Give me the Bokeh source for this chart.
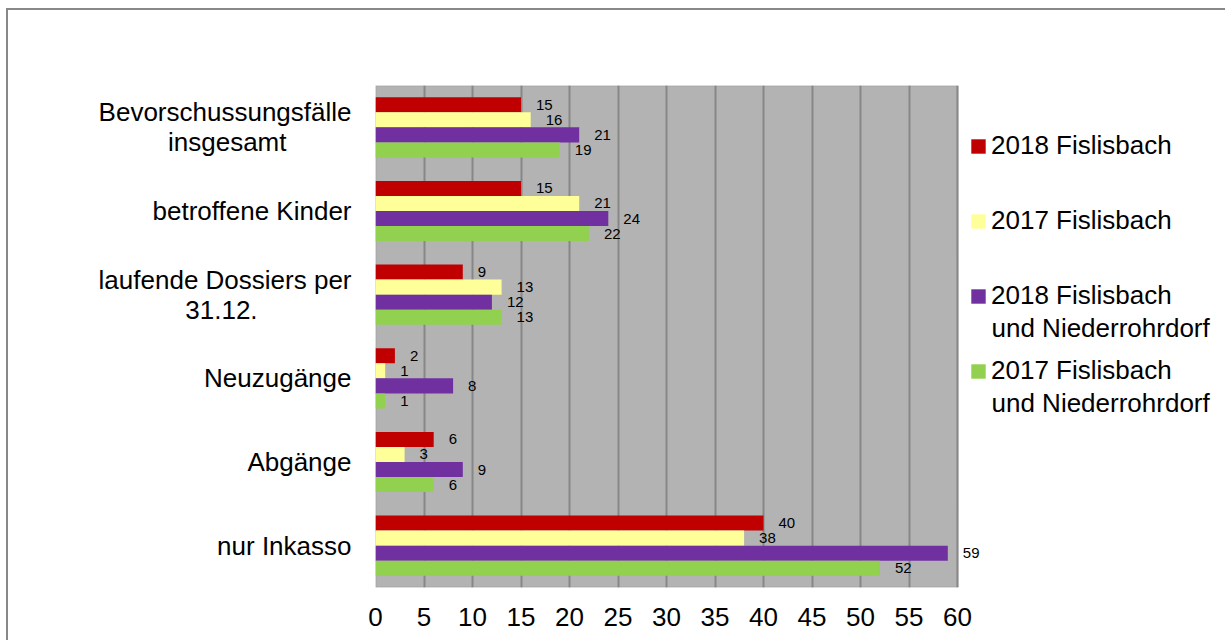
from bokeh.plotting import figure
from bokeh.models import (ColumnDataSource, FactorRange, Range1d, FixedTicker,
                          LabelSet, Label, Legend, LegendItem, BoxAnnotation)
from bokeh.core.properties import value
from bokeh.transform import dodge
from bokeh.embed import file_html
from bokeh.resources import INLINE

NBSP = "\u00a0"

# Categories, top to bottom as they appear on the chart
# (second lines are padded so that they sit centred under the first line)
categories = [
    "Bevorschussungsfälle\ninsgesamt" + NBSP * 9,
    "betroffene Kinder",
    "laufende Dossiers per\n31.12." + NBSP * 13,
    "Neuzugänge",
    "Abgänge",
    "nur Inkasso",
]

# Series values (same order as categories)
fislisbach_2018 = [15, 15, 9, 2, 6, 40]
fislisbach_2017 = [16, 21, 13, 1, 3, 38]
fislisbach_nrd_2018 = [21, 24, 12, 8, 9, 59]
fislisbach_nrd_2017 = [19, 22, 13, 1, 6, 52]

# Legend texts: first line next to the colour key, optional second line below
series_names = ["2018 Fislisbach", "2017 Fislisbach", "2018 Fislisbach", "2017 Fislisbach"]
series_second_lines = [None, None, "und Niederrohrdorf", "und Niederrohrdorf"]
series_colors = ["#C00000", "#FFFF99", "#7030A0", "#92D050"]

x_ticks = [0, 5, 10, 15, 20, 25, 30, 35, 40, 45, 50, 55, 60]
x_max = 60

FONT = "Liberation Sans"

series = [fislisbach_2018, fislisbach_2017, fislisbach_nrd_2018, fislisbach_nrd_2017]
data = {"cat": categories}
for i, vals in enumerate(series):
    data[f"v{i}"] = vals
    data[f"t{i}"] = [str(v) for v in vals]
source = ColumnDataSource(data)

# The frame reaches to the right edge so that the value labels and the
# legend beside the grey plot area are not clipped; the grey area itself
# covers 0..60 only.
FRAME_LEFT, PLOT_RIGHT, FRAME_RIGHT = 375, 957, 1215
FRAME_TOP, FRAME_BOTTOM = 85, 587
x_end = x_max * (FRAME_RIGHT - FRAME_LEFT) / (PLOT_RIGHT - FRAME_LEFT)

p = figure(
    width=1225, height=640,
    y_range=FactorRange(factors=list(reversed(categories))),
    x_range=Range1d(0, x_end),
    output_backend="svg", toolbar_location=None,
    min_border_left=FRAME_LEFT, min_border_right=1225 - FRAME_RIGHT,
    min_border_top=FRAME_TOP, min_border_bottom=640 - FRAME_BOTTOM,
)
p.background_fill_color = None
p.border_fill_color = None
p.outline_line_color = None
p.styles = {
    "background": "linear-gradient(#888888,#888888) 6px 8px / 1219px 2px no-repeat, "
                  "linear-gradient(#888888,#888888) 6px 8px / 2px 632px no-repeat, #ffffff"
}

plot_area = BoxAnnotation(left=0, right=x_max, fill_color="#B3B3B3", fill_alpha=1,
                          line_color="#888888", line_width=2, level="image")
p.add_layout(plot_area)

bar_height = 0.18
offsets = [0.27, 0.09, -0.09, -0.27]

renderers = []
for i, (color, off) in enumerate(zip(series_colors, offsets)):
    r = p.hbar(y=dodge("cat", off, range=p.y_range), left=0, right=f"v{i}",
               height=bar_height, fill_color=color, line_color=None, source=source)
    renderers.append(r)
    labels = LabelSet(x=f"v{i}", y=dodge("cat", off, range=p.y_range), text=f"t{i}",
                      x_offset=15, text_align="left", text_baseline="middle",
                      text_font=value(FONT), text_font_size="15px",
                      text_color="#000000", source=source)
    p.add_layout(labels)

# Axes
p.xaxis.ticker = FixedTicker(ticks=x_ticks)
for ax in (p.xaxis, p.yaxis):
    ax.major_label_text_font = FONT
    ax.major_label_text_font_size = "26px"
    ax.major_label_text_color = "#000000"
    ax.major_tick_out = 0
    ax.major_tick_in = 0
    ax.minor_tick_out = 0
    ax.minor_tick_in = 0
    ax.axis_line_color = None
p.xaxis.major_label_standoff = 20
p.yaxis.major_label_standoff = 24
p.yaxis.major_label_text_line_height = 1.0

p.xgrid.ticker = FixedTicker(ticks=x_ticks)
p.xgrid.grid_line_color = "#878787"
p.xgrid.grid_line_width = 2
p.ygrid.grid_line_color = None

# Legend: one entry every 75 px, key square beside the first text line
LEGEND_LEFT, LEGEND_TOP, LEGEND_PITCH = 969, 145, 75
legend = Legend(
    items=[LegendItem(label=name, renderers=[r]) for name, r in zip(series_names, renderers)],
    location=(LEGEND_LEFT - FRAME_LEFT, 201), spacing=44,
    padding=0, margin=0, border_line_color=None,
    background_fill_alpha=0, glyph_width=18, glyph_height=18,
    label_standoff=4, label_text_font=FONT,
    label_text_font_size="26px", label_text_color="#000000",
)
p.add_layout(legend)

for i, line in enumerate(series_second_lines):
    if line is None:
        continue
    y_px = LEGEND_TOP + i * LEGEND_PITCH + 32
    p.add_layout(Label(x=LEGEND_LEFT + 22 - FRAME_LEFT, y=FRAME_BOTTOM - y_px,
                       x_units="screen", y_units="screen", text=line,
                       text_align="left", text_baseline="middle",
                       text_font=FONT, text_font_size="26px", text_color="#000000"))

open("out.html", "w").write(file_html(p, INLINE))
